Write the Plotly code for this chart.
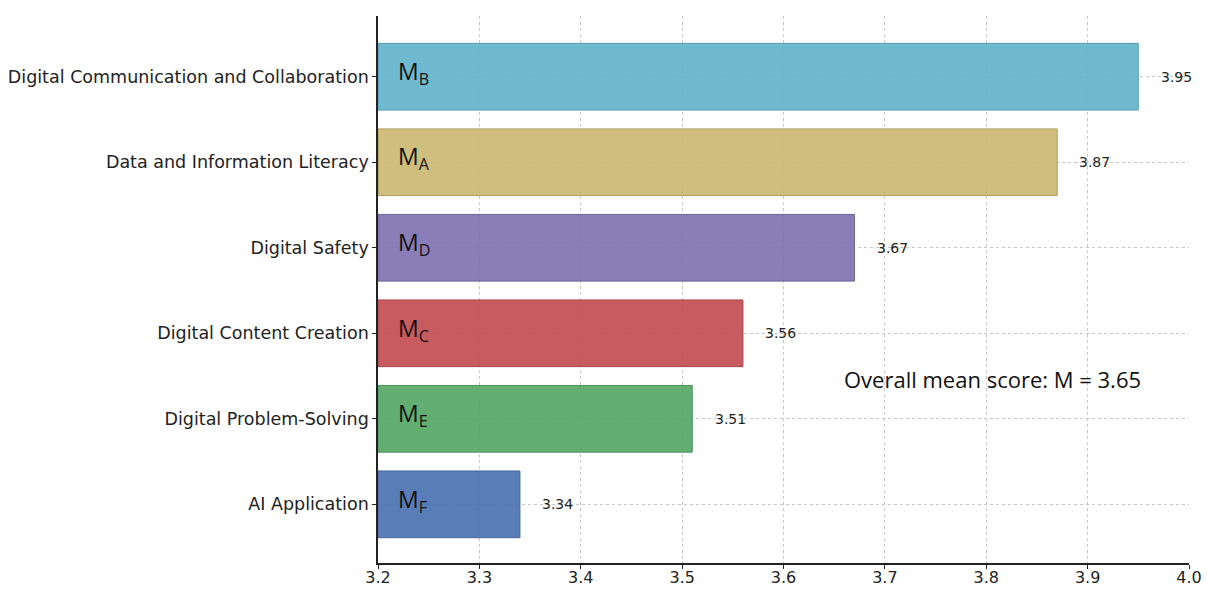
import plotly.graph_objects as go

categories = ["AI Application", "Digital Problem-Solving", "Digital Content Creation",
              "Digital Safety", "Data and Information Literacy",
              "Digital Communication and Collaboration"]
values = [3.34, 3.51, 3.56, 3.67, 3.87, 3.95]
codes = ["F", "E", "C", "D", "A", "B"]
colors = ["#4c72b0", "#55a868", "#c44e52", "#8172b2", "#ccb974", "#64b5cd"]
edge_colors = ["#3a5a90", "#3f8a52", "#a03a3e", "#63568f", "#a99550", "#4a95ab"]
x_ticks = [3.2, 3.3, 3.4, 3.5, 3.6, 3.7, 3.8, 3.9, 4.0]
overall_mean = 3.65
x_min, x_max = 3.2, 4.0

ypos = list(range(len(categories)))

fig = go.Figure()
fig.add_trace(go.Bar(
    x=[v - x_min for v in values], base=x_min, y=ypos, orientation="h",
    width=0.78,
    marker=dict(color=colors, line=dict(color=edge_colors, width=1)),
    opacity=0.92, showlegend=False, hoverinfo="skip",
))

annotations = []
for i, (v, c) in enumerate(zip(values, codes)):
    annotations.append(dict(x=v + 0.02, y=i, text=f"{v:.2f}", showarrow=False,
                            xanchor="left", yanchor="middle",
                            font=dict(family="DejaVu Sans", size=14, color="#222222")))
    annotations.append(dict(x=x_min + 0.018, y=i + 0.05, text=f"M<sub>{c}</sub>", showarrow=False,
                            xanchor="left", yanchor="middle",
                            font=dict(family="Open Sans", size=23, color="#111111")))
annotations.append(dict(x=3.658, y=1.47, text=f"Overall mean score: M = {overall_mean:.2f}",
                        showarrow=False, xanchor="left", yanchor="middle",
                        font=dict(family="Open Sans", size=22, color="#111111")))

fig.update_layout(
    width=1207, height=589,
    margin=dict(l=378, r=18, t=16, b=26),
    plot_bgcolor="white", paper_bgcolor="white",
    annotations=annotations,
    xaxis=dict(range=[x_min, x_max], tickvals=x_ticks, ticktext=[f"{t:.1f}" for t in x_ticks],
               showgrid=True, gridcolor="#c8c8c8", griddash="dot", gridwidth=1,
               showline=True, linecolor="#222222", linewidth=1.5,
               ticks="outside", ticklen=4, tickcolor="#222222",
               ticklabelstandoff=-5,
               tickfont=dict(family="DejaVu Sans", size=16, color="#222222"),
               zeroline=False, automargin=False),
    yaxis=dict(range=[-0.686, 5.71], tickvals=ypos, ticktext=categories,
               showgrid=True, gridcolor="#c8c8c8", griddash="dot", gridwidth=1,
               showline=True, linecolor="#222222", linewidth=1.5,
               ticks="outside", ticklen=4, tickcolor="#222222",
               tickfont=dict(family="DejaVu Sans", size=17.5, color="#222222"),
               zeroline=False, automargin=False),
)

fig.write_html("out.html")
